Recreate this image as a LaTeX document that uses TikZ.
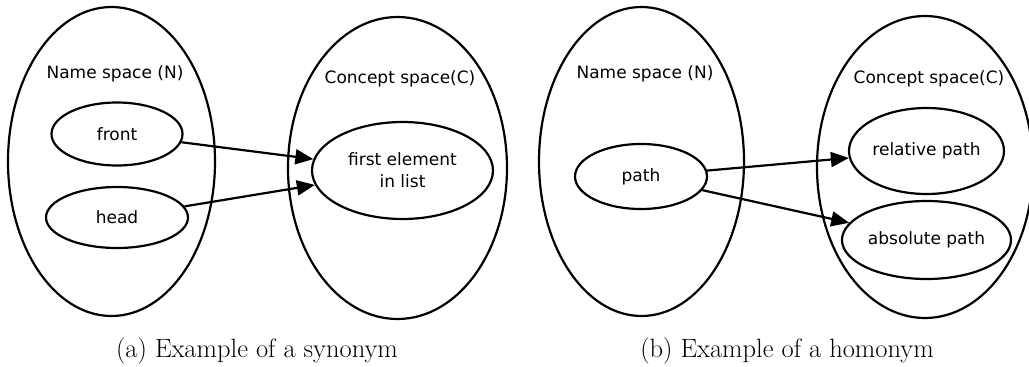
\documentclass[tikz,border=0pt]{standalone}
\usepackage{fontspec}
\newfontfamily\dv{DejaVu Sans}
\usetikzlibrary{shapes.geometric,arrows.meta}
\tikzset{
  spacebox/.style={draw, ellipse, line width=2.2pt, inner sep=0pt},
  itembox/.style={draw, ellipse, line width=2.2pt, inner sep=0pt, font=\dv\fontsize{17}{22}\selectfont, align=center},
  lbltext/.style={font=\dv\fontsize{17}{22}\selectfont, inner sep=0pt},
  captext/.style={font=\fontsize{26.5}{30}\selectfont, inner sep=0pt},
  linkarrow/.style={line width=2.2pt, -{Triangle[length=18pt,width=15pt]}}
}
\begin{document}
\begin{tikzpicture}[x=1pt,y=-1pt]
\useasboundingbox (0,0) rectangle (1029,367);
\begin{scope}
\clip (0,0) rectangle (1029,367);
% (a)
\node[spacebox, minimum width=207pt, minimum height=309pt] (Na) at (111.5,161.5) {};
\node[spacebox, minimum width=219pt, minimum height=302pt] (Ca) at (397.5,168) {};
\node[lbltext] (nla) at (115,74) {Name space (N)};
\node[lbltext] (cla) at (400,79) {Concept space(C)};
\node[itembox, minimum width=131pt, minimum height=63pt] (front) at (117,134) {front};
\node[itembox, minimum width=142pt, minimum height=61pt] (head) at (117,217.5) {head};
\node[itembox, minimum width=181pt, minimum height=97pt] (first) at (402.5,170.5) {first element\\in list};
\draw[linkarrow] (front) -- (first);
\draw[linkarrow] (head) -- (first);
\node[captext] (capa) at (257,351) {(a)\ Example of a synonym};
% (b)
\node[spacebox, minimum width=205pt, minimum height=309pt] (Nb) at (641.5,161.5) {};
\node[spacebox, minimum width=216pt, minimum height=302pt] (Cb) at (925,167) {};
\node[lbltext] (nlb) at (645,74) {Name space (N)};
\node[lbltext] (clb) at (929,79) {Concept space(C)};
\node[itembox, minimum width=132pt, minimum height=65pt] (path) at (641,176.5) {path};
\node[itembox, minimum width=155pt, minimum height=86pt] (rel) at (926.5,151) {relative path};
\node[itembox, minimum width=169pt, minimum height=78pt] (abs) at (926.5,240) {absolute path};
\draw[linkarrow] (path) -- (rel);
\draw[linkarrow] (path) -- (abs);
\node[captext] (capb) at (787,351) {(b)\ Example of a homonym};
\end{scope}
\end{tikzpicture}
\end{document}
